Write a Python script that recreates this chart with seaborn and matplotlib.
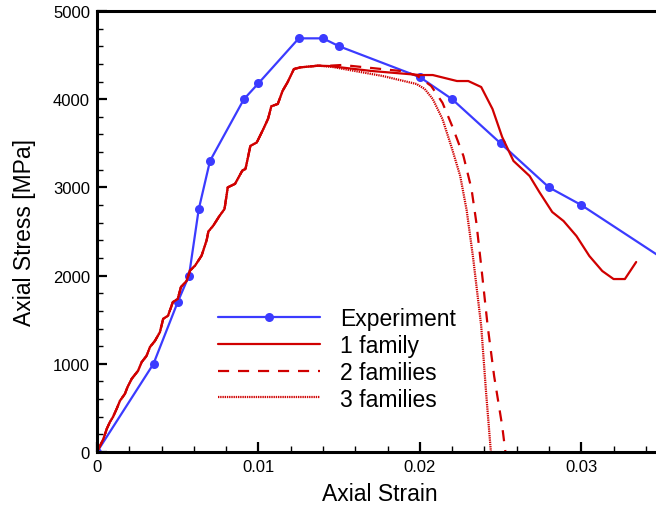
import numpy as np
import pandas as pd
import matplotlib
matplotlib.use("Agg")
import matplotlib.pyplot as plt
from matplotlib.ticker import MultipleLocator, FuncFormatter
import seaborn as sns

# ---- data ----
exp_strain = [0.0, 0.0035, 0.0050, 0.0057, 0.0063, 0.0070, 0.0091, 0.0100, 0.0125,
              0.0140, 0.0150, 0.0200, 0.0220, 0.0250, 0.0280, 0.0300, 0.0350]
exp_stress = [0, 1000, 1700, 2000, 2750, 3300, 4000, 4180, 4690,
              4690, 4600, 4250, 4000, 3500, 3000, 2800, 2200]

# common loading branch (shared by all simulations)
load_strain = [0.0, 0.0004, 0.0006, 0.0008, 0.0010, 0.00122, 0.00142, 0.00173, 0.0019,
               0.00215, 0.00254, 0.00277, 0.00307, 0.00328, 0.00359, 0.0039, 0.0041,
               0.0044, 0.0047, 0.0050, 0.0052, 0.00555, 0.00576, 0.00607, 0.00648,
               0.00679, 0.0069, 0.0072, 0.0076, 0.0079, 0.0081, 0.00855, 0.0090,
               0.0092, 0.0095, 0.0099, 0.0103, 0.0106, 0.0108, 0.0112, 0.0115,
               0.0118, 0.0122, 0.0126, 0.0137]
load_stress = [0, 150, 260, 340, 400, 490, 580, 660, 740,
               830, 920, 1020, 1090, 1190, 1260, 1360, 1510,
               1545, 1700, 1735, 1870, 1940, 2056, 2112, 2226,
               2400, 2500, 2566, 2680, 2755, 3000, 3040, 3190,
               3210, 3470, 3510, 3660, 3780, 3920, 3946, 4096,
               4190, 4342, 4361, 4380]

f1_strain = [0.0144, 0.0170, 0.0200, 0.0208, 0.0223, 0.0230, 0.0238, 0.0245, 0.0251,
             0.0258, 0.0268, 0.0274, 0.0282, 0.0289, 0.0297, 0.0305, 0.0313,
             0.0320, 0.0327, 0.0334]
f1_stress = [4376, 4320, 4274, 4274, 4206, 4206, 4138, 3889, 3571,
             3300, 3129, 2948, 2721, 2619, 2449, 2222, 2052,
             1961, 1961, 2154]

f2_strain = [0.0144, 0.0152, 0.0188, 0.0198, 0.0207, 0.0214, 0.0220, 0.0227, 0.0232,
             0.0235, 0.0238, 0.0242, 0.0246, 0.0251, 0.0253]
f2_stress = [4380, 4388, 4320, 4270, 4150, 3960, 3696, 3356, 2982,
             2600, 2109, 1429, 862, 295, 0]

f3_strain = [0.0146, 0.0177, 0.0198, 0.0203, 0.0208, 0.0214, 0.0220, 0.0225, 0.0229,
             0.0233, 0.0238, 0.0241, 0.0244]
f3_stress = [4365, 4263, 4172, 4116, 4002, 3776, 3435, 3129, 2740,
             2200, 1429, 680, 0]

labels = ["Experiment", "1 family", "2 families", "3 families"]

# ---- style ----
sns.set_style("ticks")
plt.rcParams['font.family'] = ['Liberation Sans', 'DejaVu Sans']
plt.rcParams['xtick.direction'] = 'in'
plt.rcParams['ytick.direction'] = 'in'
for k in ['text.color', 'axes.labelcolor', 'xtick.color', 'ytick.color', 'axes.edgecolor']:
    plt.rcParams[k] = 'black'

blue = "#3b3bff"
red = "#d00000"

fig = plt.figure(figsize=(6.56, 5.10), dpi=100)
ax = fig.add_axes([97/656, 57/510, 565/656, 441/510])

df_exp = pd.DataFrame({"x": exp_strain, "y": exp_stress})
df1 = pd.DataFrame({"x": load_strain + f1_strain, "y": load_stress + f1_stress})
df2 = pd.DataFrame({"x": load_strain + f2_strain, "y": load_stress + f2_stress})
df3 = pd.DataFrame({"x": load_strain + f3_strain, "y": load_stress + f3_stress})

sns.lineplot(data=df_exp, x="x", y="y", ax=ax, sort=False, estimator=None,
             color=blue, lw=1.6, marker="o", markersize=6.5, markeredgewidth=0,
             label=labels[0])
sns.lineplot(data=df1, x="x", y="y", ax=ax, sort=False, estimator=None,
             color=red, lw=1.6, label=labels[1])
sns.lineplot(data=df2, x="x", y="y", ax=ax, sort=False, estimator=None,
             color=red, lw=1.6, label=labels[2])
ax.lines[-1].set_dashes((5, 4))
sns.lineplot(data=df3, x="x", y="y", ax=ax, sort=False, estimator=None,
             color=red, lw=1.6, label=labels[3])
ax.lines[-1].set_dashes((0.6, 0.4))

ax.set_xlim(0, 0.035)
ax.set_ylim(0, 5000)
ax.xaxis.set_major_locator(MultipleLocator(0.01))
ax.xaxis.set_minor_locator(MultipleLocator(0.002))
ax.yaxis.set_major_locator(MultipleLocator(1000))
ax.yaxis.set_minor_locator(MultipleLocator(200))
ax.xaxis.set_major_formatter(FuncFormatter(lambda v, p: "%g" % round(v, 4)))
ax.tick_params(which="major", length=7.5, width=1.6, labelsize=12, pad=5, colors='black')
ax.tick_params(which="minor", length=4, width=1.0, colors='black')
for s in ["left", "bottom", "top"]:
    ax.spines[s].set_linewidth(2.2)
    ax.spines[s].set_color('black')
ax.spines["right"].set_visible(False)

ax.set_xlabel("Axial Strain", fontsize=16.5, labelpad=6, color='black')
ax.set_ylabel("Axial Stress [MPa]", fontsize=16.5, labelpad=12, color='black')

leg = ax.legend(loc="upper left", bbox_to_anchor=(0.198, 0.35), frameon=False,
                fontsize=16.5, handlelength=4.45, handletextpad=0.87,
                labelspacing=0.17, borderaxespad=0)
for t in leg.get_texts():
    t.set_color('black')

fig.savefig("out.png", dpi=100)
